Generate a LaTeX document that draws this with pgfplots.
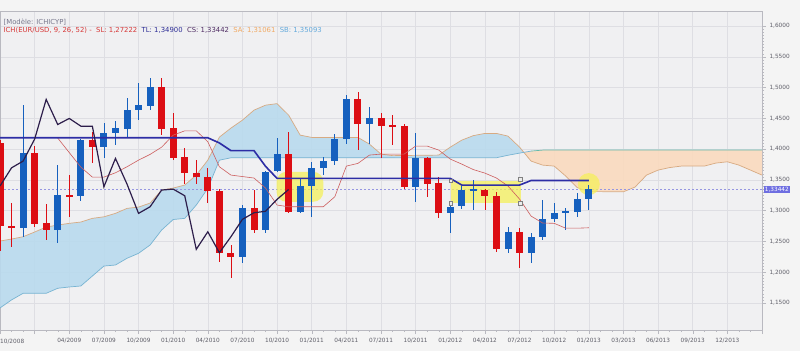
\documentclass[border=0pt]{standalone}
\usepackage{pgfplots}
\usepackage{pgfplotstable}
\pgfplotsset{compat=1.18}
\usepackage{fontspec}
\setmainfont{DejaVu Sans}

\definecolor{bgcol}{RGB}{244,244,244}
\definecolor{plotbg}{RGB}{240,240,242}
\definecolor{gridgray}{RGB}{222,222,227}
\definecolor{axisgray}{RGB}{185,185,192}
\definecolor{labelgray}{RGB}{95,95,105}
\definecolor{upC}{RGB}{22,96,190}
\definecolor{dnC}{RGB}{220,14,20}
\definecolor{tlC}{RGB}{45,45,165}
\definecolor{csC}{RGB}{45,30,75}
\definecolor{slC}{RGB}{205,95,95}
\definecolor{saC}{RGB}{215,170,130}
\definecolor{sbC}{RGB}{120,180,210}
\definecolor{sbT}{RGB}{100,185,170}
\definecolor{cloudB}{RGB}{185,218,238}
\definecolor{cloudO}{RGB}{250,218,190}
\definecolor{hl}{RGB}{245,240,90}
\definecolor{priceC}{RGB}{150,150,225}
\definecolor{pricebox}{RGB}{110,110,225}
\definecolor{modelC}{RGB}{120,120,140}
\definecolor{legSL}{RGB}{215,55,55}
\definecolor{legTL}{RGB}{45,45,150}
\definecolor{legCS}{RGB}{80,45,100}
\definecolor{legSA}{RGB}{240,170,100}
\definecolor{legSB}{RGB}{100,170,220}

% up (bullish) candles: month index, open, high, low, close
\pgfplotstableread{
m O H L C
2 1.2720 1.4714 1.2580 1.3940
5 1.2680 1.3740 1.2480 1.3250
7 1.3237 1.4160 1.3150 1.4146
9 1.4028 1.4420 1.3850 1.4265
10 1.4255 1.4450 1.4060 1.4336
11 1.4325 1.4830 1.4180 1.4633
12 1.4633 1.5067 1.4470 1.4714
13 1.4703 1.5148 1.4630 1.5002
21 1.2242 1.3090 1.2150 1.3048
23 1.2685 1.3650 1.2630 1.3632
24 1.3643 1.4174 1.3627 1.3919
26 1.2982 1.3524 1.2960 1.3400
27 1.3400 1.3790 1.2900 1.3696
28 1.3696 1.3875 1.3578 1.3805
29 1.3805 1.4240 1.3750 1.4162
30 1.4162 1.4877 1.4090 1.4807
32 1.4400 1.4687 1.4090 1.4498
36 1.3388 1.4255 1.3144 1.3849
39 1.2956 1.3150 1.2632 1.3063
40 1.3075 1.3400 1.3030 1.3335
41 1.3330 1.3497 1.3010 1.3350
44 1.2372 1.2740 1.2310 1.2657
46 1.2317 1.2640 1.2144 1.2576
47 1.2576 1.3172 1.2523 1.2859
48 1.2859 1.3128 1.2820 1.2966
49 1.2966 1.3037 1.2685 1.2990
50 1.2982 1.3290 1.2900 1.3184
51 1.3184 1.3416 1.3010 1.33442
}\upT

% down (bearish) candles
\pgfplotstableread{
m O H L C
0 1.4097 1.4140 1.2350 1.2750
1 1.2755 1.3120 1.2410 1.2717
3 1.3940 1.4050 1.2740 1.2790
4 1.2800 1.3110 1.2520 1.2680
6 1.3253 1.3580 1.2900 1.3225
8 1.4146 1.4280 1.3770 1.4028
14 1.5002 1.5148 1.4227 1.4325
15 1.4336 1.4580 1.3820 1.3859
16 1.3865 1.4010 1.3440 1.3615
17 1.3615 1.3820 1.3440 1.3540
18 1.3540 1.3687 1.3120 1.3323
19 1.3323 1.3350 1.2170 1.2317
20 1.2317 1.2440 1.1900 1.2242
22 1.3048 1.3334 1.2630 1.2685
25 1.3919 1.4280 1.2956 1.2982
31 1.4807 1.4930 1.3980 1.4400
33 1.4498 1.4580 1.3850 1.4373
34 1.4390 1.4550 1.4065 1.4373
35 1.4373 1.4400 1.3350 1.3388
37 1.3849 1.3880 1.3226 1.3432
38 1.3443 1.3550 1.2875 1.2956
42 1.3334 1.3360 1.3010 1.3242
43 1.3242 1.3310 1.2330 1.2372
45 1.2657 1.2720 1.2063 1.2317
}\dnT

% Senkou span A
\pgfplotstableread{
m v
0 1.2506
1 1.2539
2 1.2576
3 1.2653
4 1.2734
5 1.2766
6 1.2794
7 1.2815
8 1.2875
9 1.2900
10 1.2956
11 1.3037
12 1.3058
13 1.3123
14 1.3334
15 1.3367
16 1.3416
17 1.3578
18 1.3821
19 1.4195
20 1.4341
21 1.4471
22 1.4633
23 1.4714
24 1.4739
25 1.4552
26 1.4227
27 1.4190
31 1.4190
32 1.4081
33 1.3919
34 1.3894
38 1.3903
39 1.4032
40 1.4146
41 1.4219
42 1.4255
43 1.4255
44 1.4211
45 1.4032
46 1.3805
47 1.3740
48 1.3724
49 1.3562
50 1.3375
51 1.3310
54 1.3307
55 1.3383
56 1.3578
57 1.3659
58 1.3700
59 1.3724
61 1.3724
62 1.3773
63 1.3794
64 1.3740
65 1.3659
66 1.3578
}\SAdata

% Senkou span B
\pgfplotstableread{
m v
0 1.1419
1 1.1550
2 1.1657
4 1.1657
5 1.1739
6 1.1760
7 1.1776
8 1.1938
9 1.2100
10 1.2117
11 1.2226
12 1.2307
13 1.2442
14 1.2685
15 1.2856
16 1.2875
17 1.3091
18 1.3362
19 1.3820
20 1.3859
43 1.3860
44 1.3900
45 1.3935
46 1.3968
47 1.3984
66 1.3984
}\SBdata

% cloud where SA is above SB (SA forward, then SB backward)
\pgfplotstableread{
m v
0 1.2506
1 1.2539
2 1.2576
3 1.2653
4 1.2734
5 1.2766
6 1.2794
7 1.2815
8 1.2875
9 1.2900
10 1.2956
11 1.3037
12 1.3058
13 1.3123
14 1.3334
15 1.3367
16 1.3416
17 1.3578
18 1.3821
19 1.4195
20 1.4341
21 1.4471
22 1.4633
23 1.4714
24 1.4739
25 1.4552
26 1.4227
27 1.4190
31 1.4190
32 1.4081
33 1.3919
34 1.3894
38 1.3903
39 1.4032
40 1.4146
41 1.4219
42 1.4255
43 1.4255
44 1.4211
45 1.4032
45.37 1.3947
45 1.3935
44 1.3900
43 1.3860
20 1.3859
19 1.3820
18 1.3362
17 1.3091
16 1.2875
15 1.2856
14 1.2685
13 1.2442
12 1.2307
11 1.2226
10 1.2117
9 1.2100
8 1.1938
7 1.1776
6 1.1760
5 1.1739
4 1.1657
2 1.1657
1 1.1550
0 1.1419
}\cloudBdata

% cloud where SB is above SA
\pgfplotstableread{
m v
45.37 1.3947
46 1.3805
47 1.3740
48 1.3724
49 1.3562
50 1.3375
51 1.3310
54 1.3307
55 1.3383
56 1.3578
57 1.3659
58 1.3700
59 1.3724
61 1.3724
62 1.3773
63 1.3794
64 1.3740
65 1.3659
66 1.3578
66 1.3984
47 1.3984
46 1.3968
}\cloudOdata

% SL (thin red)
\pgfplotstableread{
m v
5 1.4180
6 1.3943
7 1.3708
8 1.3545
9 1.3545
10 1.3615
11 1.3713
12 1.3821
13 1.3914
14 1.4032
15 1.4227
16 1.4297
17 1.4297
18 1.4120
19 1.3713
20 1.3578
21 1.3554
22 1.3530
23 1.3367
24 1.3091
25 1.3063
28 1.3063
29 1.3226
30 1.3724
31 1.3768
32 1.3903
33 1.3919
35 1.3919
36 1.4049
37 1.4049
38 1.3984
39 1.3838
40 1.3756
41 1.3667
42 1.3610
43 1.3530
44 1.3400
45 1.3188
46 1.2912
47 1.2799
48 1.2794
49 1.2715
50 1.2715
51 1.27222
}\SLdata

% TL (thick blue)
\pgfplotstableread{
m v
0 1.4184
18 1.4184
19 1.4100
20 1.3975
22 1.3975
23 1.3720
24 1.3524
39 1.3524
40 1.3416
45 1.3416
46 1.3490
51 1.3490
}\TLdata

% CS (lagging span)
\pgfplotstableread{
m v
0 1.3400
1 1.3696
2 1.3805
3 1.4162
4 1.4807
5 1.4400
6 1.4498
7 1.4373
8 1.4373
9 1.3388
10 1.3849
11 1.3432
12 1.2956
13 1.3063
14 1.3335
15 1.3350
16 1.3242
17 1.2372
18 1.2657
19 1.2317
20 1.2576
21 1.2859
22 1.2966
23 1.2990
24 1.3184
25 1.33442
}\CSdata

\newcommand{\sm}{\fontsize{5.8}{7}\selectfont}
\newcommand{\legfont}{\fontsize{6.9}{8}\selectfont}

\begin{document}
\begin{tikzpicture}
\fill[bgcol] (0,-21bp) rectangle (800bp,330bp);
\begin{axis}[
  at={(0,0)}, anchor=south west,
  scale only axis, width=762bp, height=319bp,
  xmin=0, xmax=66, ymin=1.1061, ymax=1.6244,
  axis background/.style={fill=plotbg},
  axis line style={draw=axisgray},
  clip mode=individual,
  xtick={0,3,...,66},
  xticklabels={,,04/2009,07/2009,10/2009,01/2010,04/2010,07/2010,10/2010,01/2011,04/2011,07/2011,10/2011,01/2012,04/2012,07/2012,10/2012,01/2013,03/2013,06/2013,09/2013,12/2013,},
  minor x tick num=2,
  ytick={1.15,1.2,1.25,1.3,1.35,1.4,1.45,1.5,1.55,1.6},
  minor y tick num=9,
  xtick pos=bottom, ytick pos=right, yticklabel pos=right,
  tick align=outside,
  major tick length=4bp, minor tick length=2bp,
  tick style={draw=axisgray, line width=0.4bp},
  grid=major, major grid style={draw=gridgray, line width=0.5bp},
  /pgf/number format/assume math mode=true,
  yticklabel style={/pgf/number format/.cd, fixed, fixed zerofill, precision=4, use comma},
  ticklabel style={font=\sm, text=labelgray},
  xticklabel style={yshift=-1bp},
]
% cloud
\addplot[draw=none, fill=cloudB, fill opacity=0.9] table[x=m,y=v]{\cloudBdata};
\addplot[draw=none, fill=cloudO, fill opacity=0.9] table[x=m,y=v]{\cloudOdata};
\addplot[draw=saC, line width=0.7bp] table[x=m,y=v]{\SAdata};
\addplot[draw=sbC, line width=0.7bp, restrict x to domain=0:46] table[x=m,y=v]{\SBdata};
\addplot[draw=sbT, line width=0.7bp, restrict x to domain=46:66] table[x=m,y=v]{\SBdata};
% current price line
\addplot[draw=priceC, line width=0.5bp, dash pattern=on 2bp off 2bp] coordinates {(0,1.33442) (66,1.33442)};
% highlights
\fill[hl, fill opacity=0.75, rounded corners=10bp] (axis cs:23.95,1.3631) rectangle (axis cs:28.0,1.3144);
\fill[hl, fill opacity=0.75] (axis cs:39.1,1.3475) rectangle (axis cs:45.1,1.3118);
\fill[hl, fill opacity=0.75] (axis cs:51,1.3431) circle[radius=11bp];
% candles: wicks
\addplot[draw=none, mark=none, error bars/.cd, y dir=both, y explicit, error mark=none,
  error bar style={draw=upC, line width=0.8bp}]
  table[x=m, y expr={(\thisrow{H}+\thisrow{L})/2}, y error expr={(\thisrow{H}-\thisrow{L})/2}]{\upT};
\addplot[draw=none, mark=none, error bars/.cd, y dir=both, y explicit, error mark=none,
  error bar style={draw=dnC, line width=0.8bp}]
  table[x=m, y expr={(\thisrow{H}+\thisrow{L})/2}, y error expr={(\thisrow{H}-\thisrow{L})/2}]{\dnT};
% candles: bodies
\addplot[draw=none, mark=none, error bars/.cd, y dir=both, y explicit, error mark=none,
  error bar style={draw=upC, line width=7bp}]
  table[x=m, y expr={(\thisrow{O}+\thisrow{C})/2}, y error expr={abs(\thisrow{O}-\thisrow{C})/2}]{\upT};
\addplot[draw=none, mark=none, error bars/.cd, y dir=both, y explicit, error mark=none,
  error bar style={draw=dnC, line width=7bp}]
  table[x=m, y expr={(\thisrow{O}+\thisrow{C})/2}, y error expr={abs(\thisrow{O}-\thisrow{C})/2}]{\dnT};
% indicator lines
\addplot[draw=slC, line width=0.6bp] table[x=m,y=v]{\SLdata};
\addplot[draw=tlC, line width=1.6bp] table[x=m,y=v]{\TLdata};
\addplot[draw=csC, line width=1.2bp] table[x=m,y=v]{\CSdata};
% handles
\draw[draw=gray, fill=white!85!gray, line width=0.4bp] (axis cs:39.05,1.3485) ++(-1.8bp,-1.8bp) rectangle ++(3.6bp,3.6bp);
\draw[draw=gray, fill=white!85!gray, line width=0.4bp] (axis cs:45.08,1.3508) ++(-1.8bp,-1.8bp) rectangle ++(3.6bp,3.6bp);
\draw[draw=gray, fill=white!85!gray, line width=0.4bp] (axis cs:39.05,1.3118) ++(-1.8bp,-1.8bp) rectangle ++(3.6bp,3.6bp);
\draw[draw=gray, fill=white!85!gray, line width=0.4bp] (axis cs:45.08,1.3118) ++(-1.8bp,-1.8bp) rectangle ++(3.6bp,3.6bp);
% legend texts
\node[anchor=west, inner sep=0, font=\legfont, text=modelC] at (axis cs:0.3,1.6055) {[Modèle: ICHICYP]};
\node[anchor=west, inner sep=0, font=\legfont] at (axis cs:0.3,1.5925) {\textcolor{legSL}{ICH(EUR/USD, 9, 26, 52) -\ \ SL: 1,27222}\ \ \textcolor{legTL}{TL: 1,34900}\ \ \textcolor{legCS}{CS: 1,33442}\ \ \textcolor{legSA}{SA: 1,31061}\ \ \textcolor{legSB}{SB: 1,35093}};
% first date label
\node[anchor=north west, inner sep=0, font=\sm, text=labelgray] at (axis cs:0,1.1061) [yshift=-9bp] {10/2008};
% current price box
\node[anchor=west, fill=pricebox, text=white, font=\sm, inner sep=1.2bp] at (axis cs:66,1.33442) [xshift=1.5bp] {1,33442};
\end{axis}
\pgfresetboundingbox
\path (0,-21bp) rectangle (800bp,330bp);
\end{tikzpicture}
\end{document}
